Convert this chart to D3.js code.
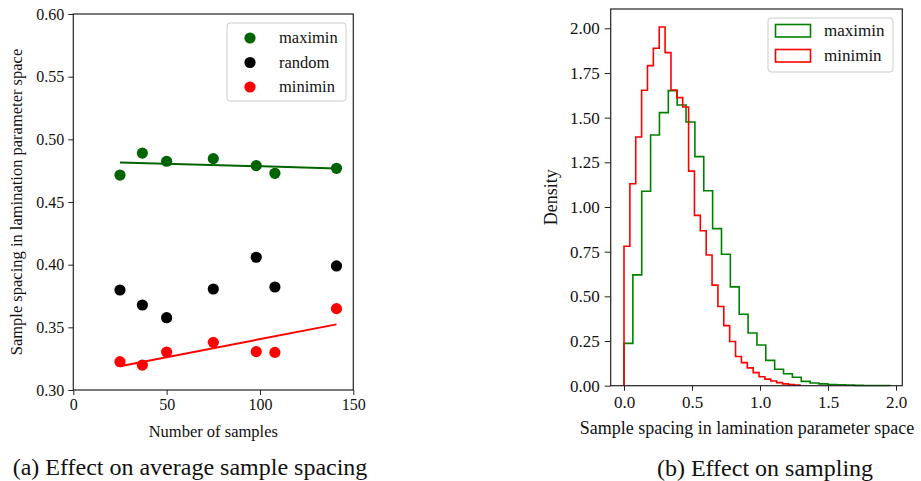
<!DOCTYPE html>
<html>
<head>
<meta charset="utf-8">
<script src="https://cdn.jsdelivr.net/npm/d3@7"></script>
<style>
  body { margin: 0; background: #fff; }
  svg text { font-family: "Liberation Serif", "Tinos", "Times New Roman", "DejaVu Serif", serif; }
  .axis path, .axis line { stroke: #222; }
  .axis text { fill: #111; }
  .axis.left text { font-size: 16px; }
  .axis.right text { font-size: 17px; }
</style>
</head>
<body>
<svg id="chart" width="921" height="481"></svg>
<script>
// (a) average sample spacing vs number of samples
const numSamples = [25, 37, 50, 75, 98, 108, 141];
const maximinSpacing = [0.4715, 0.489, 0.4825, 0.4846, 0.479, 0.4729, 0.4769];
const randomSpacing = [0.3798, 0.3678, 0.3577, 0.3806, 0.4059, 0.3822, 0.399];
const miniminSpacing = [0.3226, 0.3199, 0.3303, 0.338, 0.3306, 0.330, 0.3649];

// (b) histogram densities, 30 bins each
const maximinRange = [0, 1.955];
const maximinDensity = [0.237, 0.62, 1.088, 1.403, 1.528, 1.651, 1.571, 1.476, 1.282, 1.091,
  0.879, 0.736, 0.553, 0.40, 0.295, 0.228, 0.142, 0.092, 0.067, 0.047,
  0.024, 0.015, 0.010, 0.007, 0.005, 0.003, 0.002, 0.001, 0.001, 0.001];
const miniminRange = [0, 1.295];
const miniminDensity = [0.78, 1.13, 1.392, 1.653, 1.791, 1.888, 2.007, 1.864, 1.655, 1.612,
  1.560, 1.201, 0.953, 0.867, 0.731, 0.563, 0.443, 0.336, 0.247, 0.163,
  0.129, 0.10, 0.073, 0.05, 0.037, 0.026, 0.017, 0.01, 0.006, 0.003];

const leftTicksY = [0.30, 0.35, 0.40, 0.45, 0.50, 0.55, 0.60];
const leftTicksX = [0, 50, 100, 150];
const rightTicksY = [0, 0.25, 0.5, 0.75, 1.0, 1.25, 1.5, 1.75, 2.0];
const rightTicksX = [0, 0.5, 1.0, 1.5, 2.0];

const FONT = "Liberation Serif, Tinos, Times New Roman, DejaVu Serif, serif";

const svg = d3.select("#chart");
svg.append("rect").attr("width", 921).attr("height", 481).attr("fill", "#fff");

const label = (g, txt, size) =>
  g.append("text").attr("font-family", FONT).attr("font-size", size).attr("fill", "#111").text(txt);

// ---------- left panel ----------
const L = { x0: 73.3, x1: 353.3, y0: 14, y1: 390 };
const lx = d3.scaleLinear().domain([0, 150]).range([L.x0, L.x1]);
const ly = d3.scaleLinear().domain([0.30, 0.60]).range([L.y1, L.y0]);

const gl = svg.append("g");

const fit = (xs, ys) => {
  const mx = d3.mean(xs), my = d3.mean(ys);
  const sxy = d3.sum(xs, (x, i) => (x - mx) * (ys[i] - my));
  const sxx = d3.sum(xs, (x) => (x - mx) * (x - mx));
  const b = sxy / sxx;
  return (x) => my + b * (x - mx);
};

const series = [
  { name: "maximin", values: maximinSpacing, color: "#006400", line: true },
  { name: "random", values: randomSpacing, color: "#000", line: false },
  { name: "minimin", values: miniminSpacing, color: "#ff0000", line: true },
];

series.forEach((s) => {
  gl.selectAll(null).data(numSamples).enter().append("circle")
    .attr("cx", (d) => lx(d))
    .attr("cy", (d, i) => ly(s.values[i]))
    .attr("r", 5.6)
    .attr("fill", s.color);
});
series.filter((s) => s.line).forEach((s) => {
  const f = fit(numSamples, s.values);
  const ext = d3.extent(numSamples);
  gl.append("path")
    .datum(ext)
    .attr("d", d3.line().x((d) => lx(d)).y((d) => ly(f(d))))
    .attr("stroke", s.color).attr("stroke-width", 2).attr("fill", "none");
});

gl.append("g").attr("class", "axis left").attr("font-family", FONT)
  .attr("transform", `translate(0,${L.y1})`)
  .call(d3.axisBottom(lx).tickValues(leftTicksX).tickSize(5).tickPadding(4).tickFormat(d3.format("d")))
  .call((g) => g.select(".domain").remove());
gl.append("g").attr("class", "axis left").attr("font-family", FONT)
  .attr("transform", `translate(${L.x0},0)`)
  .call(d3.axisLeft(ly).tickValues(leftTicksY).tickSize(5).tickPadding(4).tickFormat(d3.format(".2f")))
  .call((g) => g.select(".domain").remove());
gl.append("rect")
  .attr("x", L.x0).attr("y", L.y0).attr("width", L.x1 - L.x0).attr("height", L.y1 - L.y0)
  .attr("fill", "none").attr("stroke", "#222").attr("stroke-width", 1.2);

label(gl, "Number of samples", 16.5).attr("x", (L.x0 + L.x1) / 2).attr("y", 437)
  .attr("text-anchor", "middle");
label(gl, "Sample spacing in lamination parameter space", 16.5)
  .attr("transform", `translate(22,${(L.y0 + L.y1) / 2}) rotate(-90)`)
  .attr("text-anchor", "middle");
label(gl, "(a) Effect on average sample spacing", 24).attr("x", 190).attr("y", 475)
  .attr("text-anchor", "middle");

// left legend
const lg = gl.append("g");
lg.append("rect").attr("x", 227).attr("y", 23).attr("width", 119).attr("height", 78)
  .attr("rx", 3).attr("fill", "#fff").attr("stroke", "#ccc");
series.forEach((s, i) => {
  lg.append("circle").attr("cx", 250).attr("cy", 38 + i * 24.5).attr("r", 5.6).attr("fill", s.color);
  label(lg, s.name, 16.5).attr("x", 279).attr("y", 38 + i * 24.5 + 5);
});

// ---------- right panel ----------
const R = { x0: 610.7, x1: 902.3, y0: 9, y1: 385.7 };
const rx = d3.scaleLinear().domain([-0.0978, 2.0463]).range([R.x0, R.x1]);
const ry = d3.scaleLinear().domain([0, 2.108]).range([R.y1, R.y0]);
const gr = svg.append("g");

const stepPath = (dens, range) => {
  const w = (range[1] - range[0]) / dens.length;
  const pts = [[range[0], 0]];
  dens.forEach((h, i) => {
    pts.push([range[0] + i * w, h]);
    pts.push([range[0] + (i + 1) * w, h]);
  });
  pts.push([range[1], 0]);
  return d3.line().x((d) => rx(d[0])).y((d) => ry(d[1]))(pts);
};

const hists = [
  { name: "maximin", dens: maximinDensity, range: maximinRange, color: "#008000" },
  { name: "minimin", dens: miniminDensity, range: miniminRange, color: "#ff0000" },
];
hists.forEach((h) => {
  gr.append("path").attr("d", stepPath(h.dens, h.range))
    .attr("fill", "none").attr("stroke", h.color).attr("stroke-width", 1.6)
    .attr("stroke-linejoin", "miter");
});

gr.append("g").attr("class", "axis right").attr("font-family", FONT)
  .attr("transform", `translate(0,${R.y1})`)
  .call(d3.axisBottom(rx).tickValues(rightTicksX).tickSize(5).tickPadding(5).tickFormat(d3.format(".1f")))
  .call((g) => g.select(".domain").remove());
gr.append("g").attr("class", "axis right").attr("font-family", FONT)
  .attr("transform", `translate(${R.x0},0)`)
  .call(d3.axisLeft(ry).tickValues(rightTicksY).tickSize(6).tickPadding(5).tickFormat(d3.format(".2f")))
  .call((g) => g.select(".domain").remove());
gr.append("rect")
  .attr("x", R.x0).attr("y", R.y0).attr("width", R.x1 - R.x0).attr("height", R.y1 - R.y0)
  .attr("fill", "none").attr("stroke", "#222").attr("stroke-width", 1.2);

label(gr, "Sample spacing in lamination parameter space", 18).attr("x", 747).attr("y", 434)
  .attr("text-anchor", "middle");
label(gr, "Density", 18).attr("transform", `translate(557,${(R.y0 + R.y1) / 2}) rotate(-90)`)
  .attr("text-anchor", "middle");
label(gr, "(b) Effect on sampling", 24).attr("x", 765).attr("y", 476)
  .attr("text-anchor", "middle");

// right legend
const rg = gr.append("g");
rg.append("rect").attr("x", 768).attr("y", 18).attr("width", 125).attr("height", 54)
  .attr("rx", 3).attr("fill", "#fff").attr("stroke", "#ccc");
hists.forEach((h, i) => {
  rg.append("rect").attr("x", 775.5).attr("y", 24.5 + i * 25).attr("width", 35).attr("height", 12.5)
    .attr("fill", "none").attr("stroke", h.color).attr("stroke-width", 1.6);
  label(rg, h.name, 17).attr("x", 824).attr("y", 36 + i * 25);
});
</script>
</body>
</html>
